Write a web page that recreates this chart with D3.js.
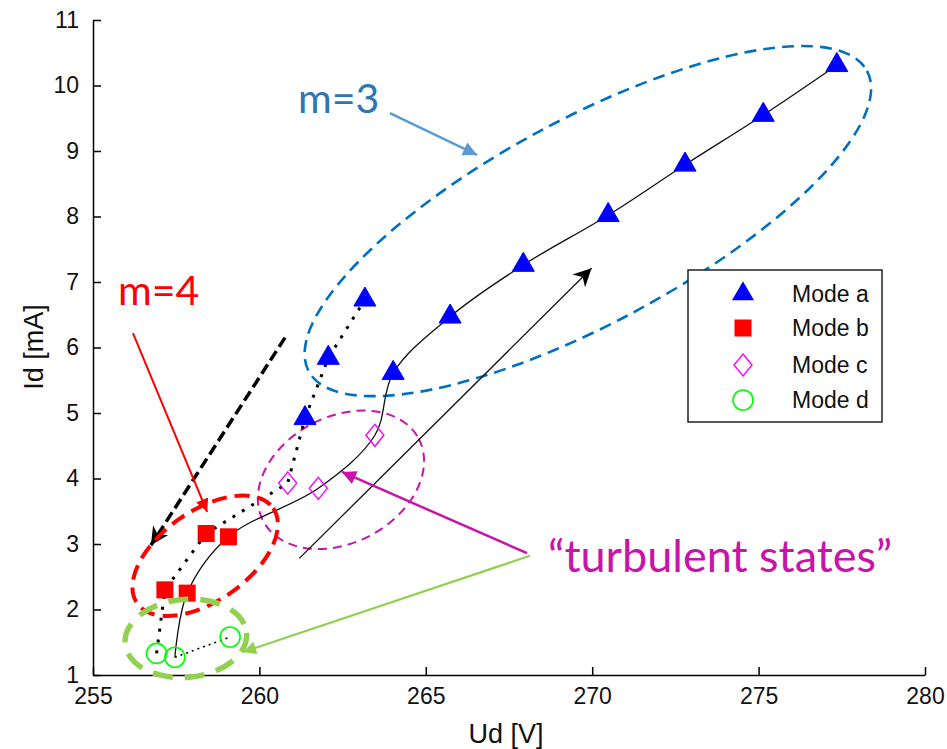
<!DOCTYPE html>
<html>
<head>
<meta charset="utf-8">
<script src="https://cdn.jsdelivr.net/npm/d3@7"></script>
<style>
    body { margin: 0; background: #fff; }
    svg { display: block; }
    .axis path, .axis line { stroke: #000; stroke-width: 1.5; }
    .axis text { font-family: "Liberation Sans", Arial, sans-serif; font-size: 23px; fill: #111; }
    .label { font-family: "Liberation Sans", Arial, sans-serif; font-size: 27px; fill: #111; }
    .note { font-family: Lato, "Open Sans", sans-serif; }
</style>
</head>
<body>
<svg width="947" height="749"></svg>
<script>
// **** Values: [Ud (V), Id (mA)] ****

var xTicks = [255, 260, 265, 270, 275, 280];
var yTicks = [1, 2, 3, 4, 5, 6, 7, 8, 9, 10, 11];

var modeA = [
    [277.35, 10.31], [275.14, 9.55], [272.79, 8.79], [270.48, 8.02],
    [267.93, 7.26], [265.73, 6.47], [264.02, 5.61],
    [263.17, 6.73], [262.07, 5.84], [261.37, 4.92]
];
var modeB = [[258.40, 3.16], [259.07, 3.11], [257.16, 2.30], [257.83, 2.25]];
var modeC = [[263.47, 4.66], [261.77, 3.85], [260.85, 3.93]];
var modeD = [[256.91, 1.33], [257.46, 1.27], [259.12, 1.58]];

var legendLabels = ['Mode a', 'Mode b', 'Mode c', 'Mode d'];

// branch followed with rising voltage (solid) and the other one (dotted)
var solidBranch = [modeD[1], modeB[3], modeB[1], modeC[1], modeC[0],
    modeA[6], modeA[5], modeA[4], modeA[3], modeA[2], modeA[1], modeA[0]];
var dottedBranch = [modeD[0], modeB[2], modeB[0], modeC[2], modeA[9], modeA[8], modeA[7]];
var dottedLink = [modeD[1], modeD[2]];

// annotations, also in data units
var sweepUp = [[261.20, 2.78], [269.98, 7.21]];
var sweepDown = [[260.77, 6.15], [256.74, 2.98]];
var groupCentres = { m3: [269.87, 7.93], turb: [262.45, 3.98], m4: [258.37, 2.82], low: [257.79, 1.56] };
var m3Arrow = [[263.92, 9.58], [266.54, 8.94]];
var m4Arrow = [[256.20, 6.22], [258.43, 3.49]];
var turbArrow = [[268.04, 2.86], [262.48, 4.10]];
var lowArrow = [[268.13, 2.82], [259.51, 1.35]];
var m3Text = [261.16, 9.58];
var m4Text = [255.75, 6.65];
var turbText = [268.67, 2.57];

// **** Scales and axes ****

var svg = d3.select('svg');

var xScale = d3.scaleLinear().domain([255, 280]).range([93, 925]);
var yScale = d3.scaleLinear().domain([1, 11]).range([675, 20]);

function px(d) { return xScale(d[0]); }
function py(d) { return yScale(d[1]); }

svg.append('g').attr('class', 'x axis')
    .attr('transform', 'translate(0,675)')
    .call(d3.axisBottom(xScale).tickValues(xTicks).tickSizeInner(-8).tickSizeOuter(0).tickPadding(13));

svg.append('g').attr('class', 'y axis')
    .attr('transform', 'translate(93,0)')
    .call(d3.axisLeft(yScale).tickValues(yTicks).tickSizeInner(-8).tickSizeOuter(0).tickPadding(14));

svg.selectAll('.axis .tick text').attr('fill', '#111');

svg.append('text')
    .attr('class', 'label')
    .attr('text-anchor', 'middle')
    .attr('transform', 'translate(506,743)')
    .text('Ud [V]');

svg.append('text')
    .attr('class', 'label')
    .attr('text-anchor', 'middle')
    .attr('transform', 'translate(43,347) rotate(-90)')
    .text('Id [mA]');

// arrow heads
var defs = svg.append('defs');
function arrowHead(id, color, len, wid, notched) {
    defs.append('marker')
        .attr('id', id)
        .attr('viewBox', '0 0 10 10')
        .attr('refX', 10).attr('refY', 5)
        .attr('markerUnits', 'userSpaceOnUse')
        .attr('markerWidth', len).attr('markerHeight', wid)
        .attr('orient', 'auto')
        .append('path')
        .attr('d', notched ? 'M0,0L10,5L0,10L3,5Z' : 'M0,0L10,5L0,10Z')
        .attr('fill', color);
}
arrowHead('hBlack', '#000', 24, 18, true);
arrowHead('hBlue', '#5b9bd5', 17, 14, false);
arrowHead('hRed', '#ff0000', 15, 13, false);
arrowHead('hMag', '#c814a8', 17, 14, false);
arrowHead('hGreen', '#92d050', 15, 13, false);

var line = d3.line().x(px).y(py);

// **** Group ellipses ****

function ellipse(c, rx, ry, angle, color, width, dash) {
    svg.append('ellipse')
        .attr('transform', 'translate(' + px(c) + ',' + py(c) + ') rotate(' + angle + ')')
        .attr('rx', rx).attr('ry', ry)
        .attr('fill', 'none')
        .attr('stroke', color)
        .attr('stroke-width', width)
        .attr('stroke-dasharray', dash);
}
ellipse(groupCentres.m3, 317, 102, -28.3, '#0070c0', 2.6, '12,7');
ellipse(groupCentres.turb, 88, 63, -28, '#c814a8', 2, '9,6');

// **** Branches ****

svg.append('path')
    .datum(solidBranch)
    .attr('d', line.curve(d3.curveCatmullRom))
    .attr('fill', 'none')
    .attr('stroke', '#111')
    .attr('stroke-width', 1.3);

svg.append('path')
    .datum(dottedBranch)
    .attr('d', line.curve(d3.curveLinear))
    .attr('fill', 'none')
    .attr('stroke', '#000')
    .attr('stroke-width', 3)
    .attr('stroke-dasharray', '3,8');

svg.append('path')
    .datum(dottedLink)
    .attr('d', line)
    .attr('fill', 'none')
    .attr('stroke', '#000')
    .attr('stroke-width', 1.6)
    .attr('stroke-dasharray', '2,4');

// sweep arrows
svg.append('path')
    .datum(sweepUp)
    .attr('d', line)
    .attr('stroke', '#111')
    .attr('stroke-width', 1.3)
    .attr('marker-end', 'url(#hBlack)');

svg.append('path')
    .datum(sweepDown)
    .attr('d', line)
    .attr('stroke', '#000')
    .attr('stroke-width', 3.5)
    .attr('stroke-dasharray', '11,5')
    .attr('marker-end', 'url(#hBlack)');

// **** Markers ****

var tri = d3.symbol().type(d3.symbolTriangle).size(210);

svg.append('g').selectAll('path')
    .data(modeA)
    .enter()
    .append('path')
    .attr('d', tri)
    .attr('transform', function (d) { return 'translate(' + px(d) + ',' + py(d) + ')'; })
    .attr('fill', '#0000ff')
    .attr('stroke', '#0000ff')
    .attr('stroke-width', 1);

svg.append('g').selectAll('rect')
    .data(modeB)
    .enter()
    .append('rect')
    .attr('x', function (d) { return px(d) - 8.5; })
    .attr('y', function (d) { return py(d) - 8.5; })
    .attr('width', 17).attr('height', 17)
    .attr('fill', '#ff0000');

var diamond = 'M0,-11L9,0L0,11L-9,0Z';
svg.append('g').selectAll('path')
    .data(modeC)
    .enter()
    .append('path')
    .attr('d', diamond)
    .attr('transform', function (d) { return 'translate(' + px(d) + ',' + py(d) + ')'; })
    .attr('fill', 'none')
    .attr('stroke', '#ff00ff')
    .attr('stroke-width', 1.4);

svg.append('g').selectAll('circle')
    .data(modeD)
    .enter()
    .append('circle')
    .attr('cx', px).attr('cy', py)
    .attr('r', 10)
    .attr('fill', 'none')
    .attr('stroke', '#00ff00')
    .attr('stroke-width', 1.6);

// low-current group ellipses sit on top of the markers
ellipse(groupCentres.m4, 83, 45, -35, '#ff0000', 4, '15,8');
ellipse(groupCentres.low, 61, 39, -5, '#92d050', 5.5, '20,12');

// **** Legend ****

var legend = svg.append('g').attr('transform', 'translate(688,270)');
legend.append('rect')
    .attr('width', 194).attr('height', 152)
    .attr('fill', '#fff')
    .attr('stroke', '#222')
    .attr('stroke-width', 1.5);

var rowY = [24, 58, 95, 130];
legend.append('path').attr('d', tri).attr('transform', 'translate(55,' + rowY[0] + ')').attr('fill', '#0000ff');
legend.append('rect').attr('x', 46.5).attr('y', rowY[1] - 8.5).attr('width', 17).attr('height', 17).attr('fill', '#ff0000');
legend.append('path').attr('d', diamond).attr('transform', 'translate(55,' + rowY[2] + ')')
    .attr('fill', 'none').attr('stroke', '#ff00ff').attr('stroke-width', 1.4);
legend.append('circle').attr('cx', 55).attr('cy', rowY[3]).attr('r', 10)
    .attr('fill', 'none').attr('stroke', '#00ff00').attr('stroke-width', 1.6);

legend.selectAll('text')
    .data(legendLabels)
    .enter()
    .append('text')
    .attr('x', 104)
    .attr('y', function (d, i) { return rowY[i]; })
    .attr('dy', '0.35em')
    .style('font-family', '"Liberation Sans", Arial, sans-serif')
    .style('font-size', '23px')
    .attr('fill', '#111')
    .text(function (d) { return d; });

// **** Call-outs ****

function callout(pts, color, width, head) {
    svg.append('path')
        .datum(pts)
        .attr('d', line)
        .attr('stroke', color)
        .attr('stroke-width', width)
        .attr('marker-end', 'url(#' + head + ')');
}
callout(m3Arrow, '#5b9bd5', 2.5, 'hBlue');
callout(m4Arrow, '#ff0000', 2, 'hRed');
callout(turbArrow, '#c814a8', 2.5, 'hMag');
callout(lowArrow, '#92d050', 2.2, 'hGreen');

svg.append('text')
    .attr('class', 'note')
    .attr('x', px(m3Text)).attr('y', py(m3Text))
    .style('font-size', '41px')
    .attr('fill', '#2e75b6')
    .text('m=3');

svg.append('text')
    .attr('class', 'note')
    .attr('x', px(m4Text)).attr('y', py(m4Text))
    .style('font-size', '41px')
    .attr('fill', '#ff0000')
    .text('m=4');

svg.append('text')
    .attr('class', 'note')
    .attr('x', px(turbText)).attr('y', py(turbText))
    .style('font-size', '45px')
    .attr('fill', '#c814a8')
    .text('\u201cturbulent states\u201d');
</script>
</body>
</html>
